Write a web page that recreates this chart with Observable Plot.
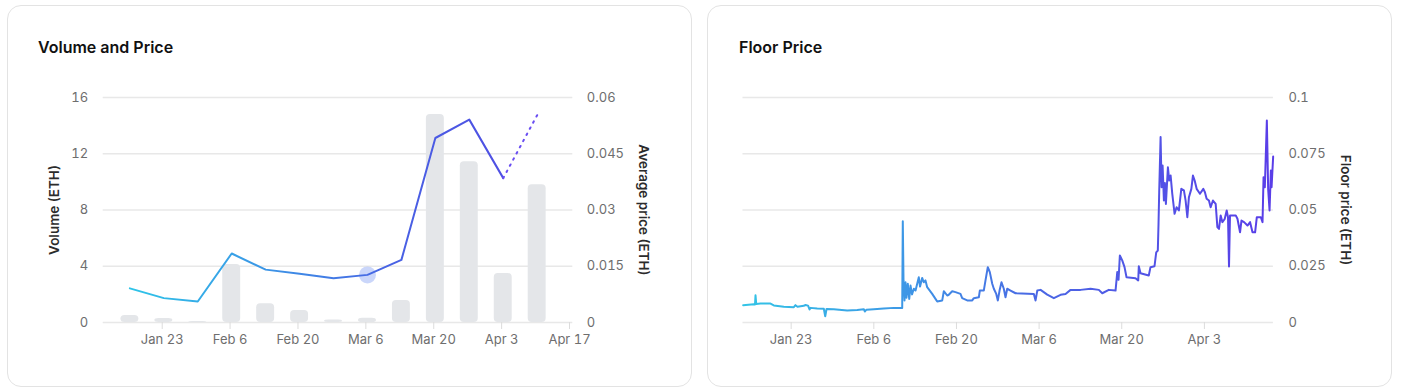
<!DOCTYPE html>
<html>
<head>
<meta charset="utf-8">
<script src="https://cdn.jsdelivr.net/npm/d3@7"></script>
<script src="https://cdn.jsdelivr.net/npm/@observablehq/plot@0.6"></script>
<style>
  html, body { margin: 0; padding: 0; background: #fff; width: 1416px; height: 391px; overflow: hidden; font-family: Inter, "Noto Sans", sans-serif; }
  .card { position: absolute; top: 5px; height: 382px; border: 1px solid #e3e3e3; border-radius: 14px; background: #fff; box-sizing: border-box; }
  .title { position: absolute; top: 37px; font-size: 16px; line-height: 20px; font-weight: 600; color: #111; white-space: nowrap; }
  .chart { position: absolute; top: 70px; height: 300px; }
  .chart svg { position: absolute; left: 0; top: 0; max-width: none !important; }
</style>
</head>
<body>
<svg width="0" height="0" style="position:absolute">
  <defs>
    <linearGradient id="gradL" x1="0" y1="0" x2="1" y2="0">
      <stop offset="0" stop-color="#2ec4e8"/>
      <stop offset="0.35" stop-color="#3b97e6"/>
      <stop offset="0.7" stop-color="#4862e4"/>
      <stop offset="1" stop-color="#4f4fe3"/>
    </linearGradient>
    <linearGradient id="gradR" x1="0" y1="0" x2="1" y2="0">
      <stop offset="0" stop-color="#33c4e6"/>
      <stop offset="0.3" stop-color="#3d98e6"/>
      <stop offset="0.55" stop-color="#4a68e4"/>
      <stop offset="1" stop-color="#5a3ee8"/>
    </linearGradient>
  </defs>
</svg>
<div class="card" style="left:7px;width:685px"></div>
<div class="card" style="left:707px;width:685px"></div>
<div class="title" style="left:38px">Volume and Price</div>
<div class="title" style="left:739px">Floor Price</div>
<div id="left" class="chart" style="left:0px;width:700px"></div>
<div id="right" class="chart" style="left:700px;width:716px"></div>
<script>
// ---- Data: Volume and Price (weekly) ----
const weeks = ["2022-01-16T08:00","2022-01-23T08:00","2022-01-30T08:00","2022-02-06T08:00","2022-02-13T08:00","2022-02-20T08:00","2022-02-27T08:00","2022-03-06T08:00","2022-03-13T08:00","2022-03-20T08:00","2022-03-27T08:00","2022-04-03T08:00","2022-04-10T08:00"];
const volume = [0.5, 0.28, 0.07, 4.12, 1.33, 0.85, 0.17, 0.3, 1.56, 14.8, 11.43, 3.48, 9.79];
const avgPrice = [0.0091, 0.0065, 0.0056, 0.0184, 0.0141, 0.013, 0.0118, 0.0127, 0.0167, 0.0492, 0.0541, 0.0385, 0.0553];
const volTicks = [0, 4, 8, 12, 16];
const priceTicks = [0, 0.015, 0.03, 0.045, 0.06];
const leftTicks = ["2022-01-23T00:00","2022-02-06T00:00","2022-02-20T00:00","2022-03-06T00:00","2022-03-20T00:00","2022-04-03T00:00","2022-04-17T00:00"];
const leftDomainDays = [9.83, 106.68];

// ---- Data: Floor price (days since Jan 1, value in ETH) ----
const floorDay = [13.87,15.67,15.87,15.96,16.08,16.81,18.50,19.06,20.75,22.45,22.73,23.07,24.14,24.43,24.86,25.11,25.28,26.41,27.53,27.77,27.99,29.22,31.49,33.19,34.31,34.47,34.76,35.99,37.69,39.38,
40.81,40.91,41.03,41.20,41.37,41.54,41.76,42.00,42.22,42.47,42.78,43.07,43.62,43.83,44.19,44.46,44.75,45.04,45.89,46.45,46.74,47.59,47.86,48.43,48.65,49.28,49.84,50.68,50.97,51.82,
52.67,52.94,53.79,53.96,54.63,54.92,55.31,55.65,56.06,56.33,56.74,57.01,57.30,57.63,58.02,58.31,58.60,59.16,60.01,63.11,63.40,63.69,64.25,65.38,66.50,67.63,68.48,69.33,71.02,72.72,
74.12,74.70,75.81,76.95,77.24,77.46,77.68,78.08,78.47,78.81,80.33,80.79,80.89,81.18,82.58,82.87,83.55,83.84,84.11,84.23,84.35,84.58,84.75,84.92,85.14,85.31,85.48,85.82,86.05,86.28,
86.56,86.95,87.29,87.68,88.09,88.53,88.82,89.11,89.38,89.79,90.06,90.35,90.69,91.25,91.82,92.09,92.38,92.77,93.06,93.45,93.91,94.20,94.47,94.76,95.05,95.44,95.78,96.00,96.17,96.34,
97.31,97.60,98.04,98.28,98.72,99.30,99.74,100.15,100.59,100.88,101.56,101.85,102.02,102.24,102.58,102.80,103.04,103.26,103.38,103.65];
const floorPrice = [0.0077,0.0081,0.0080,0.0121,0.0082,0.0084,0.0084,0.0076,0.0070,0.0068,0.0077,0.0070,0.0074,0.0078,0.0075,0.0058,0.0065,0.0062,0.0061,0.0028,0.0060,0.0059,0.0053,0.0056,0.0059,0.0049,0.0057,0.0059,0.0062,0.0065,
0.0065,0.0450,0.0187,0.0098,0.0179,0.0110,0.0172,0.0105,0.0164,0.0125,0.0150,0.0142,0.0201,0.0160,0.0198,0.0179,0.0187,0.0157,0.0127,0.0105,0.0093,0.0098,0.0139,0.0120,0.0122,0.0139,0.0135,0.0127,0.0108,0.0098,
0.0098,0.0108,0.0112,0.0142,0.0142,0.0187,0.0246,0.0224,0.0172,0.0150,0.0127,0.0098,0.0142,0.0179,0.0150,0.0112,0.0150,0.0142,0.0130,0.0127,0.0098,0.0142,0.0145,0.0124,0.0108,0.0123,0.0127,0.0145,0.0145,0.0150,
0.0145,0.0130,0.0145,0.0142,0.0224,0.0190,0.0298,0.0276,0.0246,0.0201,0.0197,0.0187,0.0250,0.0219,0.0209,0.0246,0.0250,0.0312,0.0320,0.0439,0.0587,0.0824,0.0601,0.0698,0.0542,0.0620,0.0527,0.0690,0.0631,0.0653,
0.0572,0.0483,0.0512,0.0498,0.0594,0.0587,0.0542,0.0468,0.0557,0.0594,0.0653,0.0631,0.0594,0.0572,0.0594,0.0579,0.0550,0.0542,0.0512,0.0542,0.0527,0.0424,0.0416,0.0476,0.0446,0.0460,0.0498,0.0468,0.0249,0.0476,
0.0476,0.0461,0.0401,0.0453,0.0446,0.0431,0.0446,0.0401,0.0401,0.0468,0.0468,0.0446,0.0646,0.0601,0.0898,0.0594,0.0498,0.0676,0.0601,0.0738];
const floorTicks = [0, 0.025, 0.05, 0.075, 0.1];
const rightTicks = ["2022-01-23T00:00","2022-02-06T00:00","2022-02-20T00:00","2022-03-06T00:00","2022-03-20T00:00","2022-04-03T00:00"];
const rightDomainDays = [13.84, 103.69];

// ---- Build ----
const DAY = 864e5;
const t0 = new Date(2022, 0, 1).getTime();
const fromDay = d => new Date(t0 + d * DAY);
const fmt = d3.timeFormat("%b %-d");
const weekData = weeks.map((w, i) => ({date: new Date(w), volume: volume[i], price: avgPrice[i]}));
const floorData = floorDay.map((d, i) => ({date: fromDay(d), price: floorPrice[i]}));

const baseStyle = {background: "transparent", fontFamily: "Inter, 'Noto Sans', sans-serif", fontSize: "13px", color: "#6e6e6e", overflow: "visible", maxWidth: "none"};
const leftFrame = {width: 700, height: 300, marginTop: 27, marginBottom: 48, marginLeft: 102.7, marginRight: 127.7, style: baseStyle};
const gridColor = "#e8e8e8";
const labelStyle = {fontWeight: 600, fill: "#2b2b2b", fontSize: 13.5, textAnchor: "middle", lineAnchor: "middle"};

const volPlot = Plot.plot({
  ...leftFrame,
  x: {type: "time", domain: leftDomainDays.map(fromDay)},
  y: {domain: [0, 16]},
  marks: [
    Plot.gridY(volTicks, {stroke: gridColor, strokeOpacity: 1, strokeWidth: 1.4}),
    Plot.rectY(weekData, {
      x1: d => new Date(+d.date - 3.5 * DAY), x2: d => new Date(+d.date + 3.5 * DAY),
      y: "volume", insetLeft: 8, insetRight: 8, rx: 4, fill: "#e4e6e9"
    }),
    Plot.axisX(leftTicks.map(s => new Date(s)), {tickFormat: fmt, tickSize: 7, tickPadding: 5, stroke: "#dcdcdc", color: "#6e6e6e", label: null}),
    Plot.axisY(volTicks, {anchor: "left", tickSize: 0, tickPadding: 15, tickFormat: d => String(d), color: "#6e6e6e", label: null}),
    Plot.text(["Volume (ETH)"], {text: d => d, frameAnchor: "left", rotate: -90, dx: -48.5, ...labelStyle})
  ]
});

const pricePlot = Plot.plot({
  ...leftFrame,
  x: {type: "time", domain: leftDomainDays.map(fromDay), axis: null},
  y: {domain: [0, 0.06]},
  marks: [
    Plot.dot([weekData[7]], {x: "date", y: "price", r: 8.5, fill: "#9fb4f5", fillOpacity: 0.55}),
    Plot.line(weekData.slice(0, 12), {x: "date", y: "price", stroke: "url(#gradL)", strokeWidth: 2}),
    Plot.line(weekData.slice(11), {x: "date", y: "price", stroke: "#6a4ef2", strokeWidth: 2, strokeDasharray: "1.5,5.5", strokeLinecap: "round"}),
    Plot.axisY(priceTicks, {anchor: "right", tickSize: 0, tickPadding: 14, tickFormat: d => String(d), color: "#6e6e6e", label: null}),
    Plot.text(["Average price (ETH)"], {text: d => d, frameAnchor: "right", rotate: 90, dx: 70.7, ...labelStyle})
  ]
});

const floorPlot = Plot.plot({
  width: 716, height: 300, marginTop: 27, marginBottom: 48, marginLeft: 42.5, marginRight: 143.1, style: baseStyle,
  x: {type: "time", domain: rightDomainDays.map(fromDay)},
  y: {domain: [0, 0.1]},
  marks: [
    Plot.gridY(floorTicks, {stroke: gridColor, strokeOpacity: 1, strokeWidth: 1.4}),
    Plot.line(floorData, {x: "date", y: "price", stroke: "url(#gradR)", strokeWidth: 2}),
    Plot.axisX(rightTicks.map(s => new Date(s)), {tickFormat: fmt, tickSize: 7, tickPadding: 5, stroke: "#dcdcdc", color: "#6e6e6e", label: null}),
    Plot.axisY(floorTicks, {anchor: "right", tickSize: 0, tickPadding: 15, tickFormat: d => String(d), color: "#6e6e6e", label: null}),
    Plot.text(["Floor price (ETH)"], {text: d => d, frameAnchor: "right", rotate: 90, dx: 71.8, ...labelStyle})
  ]
});

document.getElementById("left").append(volPlot, pricePlot);
document.getElementById("right").append(floorPlot);
</script>
</body>
</html>
